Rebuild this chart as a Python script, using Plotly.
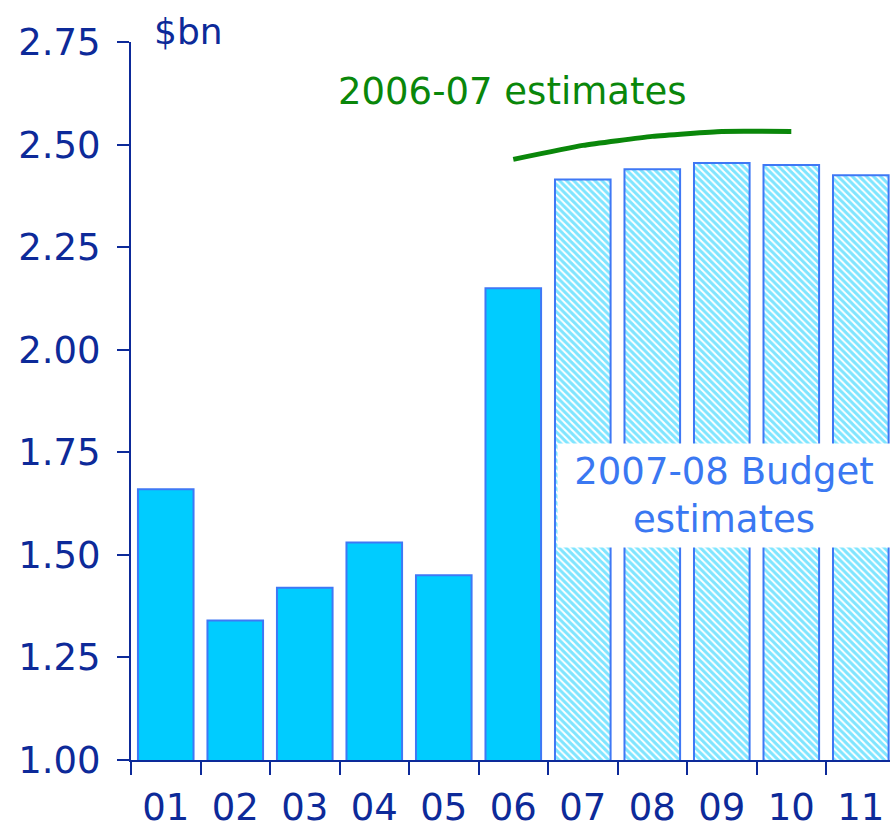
"""Bar chart: $bn by year, actuals vs 2007-08 Budget estimates,
with the 2006-07 estimates overlaid as a line."""
import plotly.graph_objects as go

# ---- data ----
actual_years = ["01", "02", "03", "04", "05", "06"]
actual_values = [1.66, 1.34, 1.42, 1.53, 1.45, 2.15]

budget_years = ["07", "08", "09", "10", "11"]
budget_values = [2.415, 2.44, 2.455, 2.45, 2.425]

prev_est_years = ["06", "07", "08", "09", "10"]
prev_est_values = [2.464, 2.498, 2.52, 2.532, 2.532]

y_ticks = [1.00, 1.25, 1.50, 1.75, 2.00, 2.25, 2.50, 2.75]

NAVY = "#0d2a99"
CYAN = "#00ccff"
OUTLINE = "#3f78f5"
GREEN = "#0a870a"
LABEL_BLUE = "#3a78f2"
FONT = "DejaVu Sans"

fig = go.Figure()

# ---- actual outcomes (solid) ----
fig.add_trace(go.Bar(
    x=actual_years, y=actual_values, name="Actual",
    marker=dict(color=CYAN, line=dict(color=OUTLINE, width=2)),
))

# ---- 2007-08 Budget estimates (hatched) ----
fig.add_trace(go.Bar(
    x=budget_years, y=budget_values, name="2007-08 Budget estimates",
    marker=dict(
        color=CYAN,
        line=dict(color=OUTLINE, width=2),
        pattern=dict(shape="\\", fgcolor=CYAN, bgcolor="white",
                     size=5, solidity=0.6),
    ),
))

# ---- 2006-07 estimates line ----
fig.add_trace(go.Scatter(
    x=prev_est_years, y=prev_est_values, mode="lines",
    name="2006-07 estimates",
    line=dict(color=GREEN, width=5, shape="spline", smoothing=0.4),
))

fig.add_annotation(
    text="2006-07 estimates", xref="paper", yref="y",
    x=0.502, y=2.629, xanchor="center", yanchor="middle", showarrow=False,
    font=dict(family=FONT, size=37, color=GREEN),
)
fig.add_annotation(
    text="2007-08 Budget<br>estimates", xref="paper", yref="y",
    x=0.781, y=1.644, xanchor="center", yanchor="middle", showarrow=False,
    width=326, height=97, bgcolor="white", borderpad=3,
    font=dict(family=FONT, size=37, color=LABEL_BLUE),
)
fig.add_annotation(
    text="$bn", xref="paper", yref="paper",
    x=0.028, y=1.014, xanchor="left", yanchor="middle", showarrow=False,
    font=dict(family=FONT, size=36, color=NAVY),
)

fig.update_layout(
    width=890, height=833,
    margin=dict(l=131, r=0, t=42, b=73),
    paper_bgcolor="white", plot_bgcolor="white",
    showlegend=False, barmode="overlay", bargap=0.2,
    font=dict(family=FONT, color=NAVY),
)
fig.update_xaxes(
    type="category", categoryorder="array",
    categoryarray=actual_years + budget_years,
    range=[-0.5, 10.42],
    showline=True, linecolor=NAVY, linewidth=2,
    ticks="outside", tickson="boundaries", ticklen=13, tickwidth=2,
    tickcolor=NAVY, ticklabelstandoff=14,
    tickfont=dict(family=FONT, size=37, color=NAVY),
    showgrid=False, zeroline=False, automargin=False,
)
fig.update_yaxes(
    range=[1.0, 2.75], tickvals=y_ticks,
    ticktext=[f"{v:.2f}" for v in y_ticks],
    showline=True, linecolor=NAVY, linewidth=2,
    ticks="outside", ticklen=12, tickwidth=2, tickcolor=NAVY,
    ticklabelstandoff=9,
    tickfont=dict(family=FONT, size=37, color=NAVY),
    showgrid=False, zeroline=False, automargin=False,
)

fig.write_html(
    "out.html",
    config={"displayModeBar": False},
    post_script="document.body.style.margin = '0';",
)
